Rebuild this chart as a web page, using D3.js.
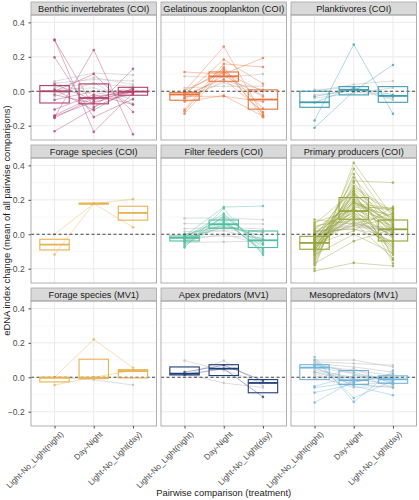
<!DOCTYPE html>
<html>
<head>
<meta charset="utf-8">
<script src="https://cdn.jsdelivr.net/npm/d3@7"></script>
<style>
  body { margin: 0; background: #fff; }
  text { font-family: "Liberation Sans", Arial, sans-serif; }
</style>
</head>
<body>
<div class="box"></div>
<script>
// categories and ticks
const comparisons = ['Light-No_Light(night)', 'Day-Night', 'Light-No_Light(day)'];
const yTicks = [-0.2, 0.0, 0.2, 0.4];
const yMinor = [-0.1, 0.1, 0.3];

const panelNames = ['Benthic invertebrates (COI)', 'Gelatinous zooplankton (COI)', 'Planktivores (COI)',
                    'Forage species (COI)', 'Filter feeders (COI)', 'Primary producers (COI)',
                    'Forage species (MV1)', 'Apex predators (MV1)', 'Mesopredators (MV1)'];
const panelColors = ['#b0416b', '#e8733c', '#3d9db1', '#e9b24e', '#4fbf9f', '#97a33b', '#e9b24e', '#1f3d78', '#6fb4db'];

// each row = one taxon: [night, day-night, day]
const benthicLines = [
  [0.300, -0.236, -0.010], [0.296, -0.090, 0.000], [0.197, -0.150, -0.045], [-0.232, -0.100, 0.130],
  [-0.151, 0.240, -0.250], [-0.145, -0.060, -0.020], [-0.155, -0.040, 0.010], [-0.106, -0.020, -0.077],
  [0.000, 0.100, -0.120], [-0.020, -0.070, 0.015], [-0.050, 0.000, -0.010], [0.010, -0.110, 0.020],
  [-0.140, -0.030, -0.005], [0.040, -0.050, 0.000]];
const benthicGrey = [
  [0.058, 0.106, 0.095], [0.048, 0.068, 0.060], [0.030, 0.040, 0.030], [0.010, 0.020, -0.050],
  [-0.010, 0.000, -0.070], [0.050, -0.020, 0.020], [-0.030, 0.050, -0.080], [0.020, 0.080, 0.040]];

const gelatinousLines = [
  [0.000, 0.260, -0.140], [-0.020, 0.184, 0.044], [0.112, 0.100, 0.193], [-0.106, 0.159, 0.141],
  [-0.116, 0.141, -0.151], [-0.130, 0.120, -0.130], [-0.010, 0.130, -0.100], [-0.030, -0.029, -0.060],
  [-0.060, -0.025, -0.145], [-0.040, 0.090, -0.030], [-0.020, 0.070, -0.120], [0.005, 0.110, 0.000]];
const gelatinousGrey = [
  [0.087, 0.080, 0.100], [0.020, 0.029, 0.030], [-0.040, 0.050, -0.020], [-0.050, 0.060, 0.010]];

const planktivoreLines = [
  [-0.170, 0.272, -0.131], [-0.212, 0.000, 0.153], [-0.030, 0.010, -0.030], [-0.065, 0.020, -0.020]];
const planktivoreGrey = [
  [0.000, 0.040, 0.060], [-0.020, 0.000, -0.040], [0.010, 0.020, -0.050], [-0.040, -0.010, 0.020]];

const forageCoiLines = [[0.000, 0.178, 0.204], [-0.118, 0.178, 0.041]];
const forageCoiGrey = [];

const filterLines = [
  [-0.010, 0.158, 0.164], [-0.077, 0.150, -0.120], [-0.020, 0.120, -0.080], [-0.030, 0.100, -0.050],
  [-0.040, 0.080, -0.100], [-0.060, 0.060, -0.030], [0.000, 0.050, -0.010], [-0.015, 0.090, -0.110],
  [-0.050, 0.070, -0.090], [-0.025, 0.040, 0.010], [-0.070, 0.110, -0.060]];
const filterGrey = [
  [0.093, 0.095, 0.085], [0.062, 0.060, 0.060], [0.033, 0.040, 0.030], [0.015, 0.025, 0.020],
  [-0.020, -0.010, -0.020], [-0.048, -0.044, -0.040], [0.000, 0.020, -0.030], [-0.035, 0.000, -0.060]];

const producerLines = [
  [-0.213, -0.166, -0.184], [-0.200, 0.415, 0.100], [-0.180, 0.350, -0.150], [-0.160, 0.300, 0.020],
  [-0.150, 0.250, -0.170], [-0.140, 0.380, 0.060], [-0.130, 0.200, -0.120], [-0.120, 0.280, 0.130],
  [-0.110, 0.150, -0.080], [-0.100, 0.330, 0.050], [-0.095, 0.230, -0.030], [-0.090, 0.180, 0.150],
  [-0.085, 0.120, -0.100], [-0.080, 0.260, 0.080], [-0.075, 0.100, -0.060], [-0.070, 0.210, 0.010],
  [-0.065, 0.160, 0.110], [-0.060, 0.070, -0.140], [-0.055, 0.240, 0.040], [-0.050, 0.140, -0.020],
  [-0.045, 0.310, 0.300], [-0.040, 0.190, 0.070], [-0.035, 0.090, -0.050], [-0.030, 0.170, 0.140],
  [-0.025, 0.220, 0.000], [-0.020, 0.130, -0.090], [-0.015, 0.050, 0.090], [-0.010, 0.270, 0.120],
  [-0.005, 0.110, -0.010], [0.000, 0.200, 0.060], [0.010, 0.150, 0.030], [0.020, 0.030, -0.040],
  [0.030, 0.180, 0.100], [0.040, 0.120, 0.050], [0.050, 0.080, -0.070], [0.060, 0.250, 0.020],
  [0.070, 0.140, 0.080], [0.085, 0.060, 0.120], [-0.170, -0.040, 0.030], [-0.120, 0.000, -0.110],
  [-0.060, 0.020, 0.160], [-0.100, 0.160, 0.150], [-0.080, 0.190, 0.040], [-0.030, 0.230, 0.090],
  [-0.050, 0.100, 0.010]];
const producerGrey = [
  [0.010, 0.060, 0.020], [0.020, 0.050, 0.010], [0.000, 0.040, 0.030], [0.030, 0.070, 0.000],
  [-0.010, 0.050, 0.040], [0.015, 0.030, -0.010]];

const forageMv1Lines = [[0.000, 0.220, 0.055], [-0.045, 0.000, 0.040]];
const forageMv1Grey = [[0.000, -0.015, -0.045]];

const apexLines = [[0.015, 0.050, -0.114], [0.030, 0.070, -0.020]];
const apexGrey = [[0.097, 0.040, -0.030], [0.010, 0.097, -0.050], [0.020, -0.033, -0.060]];

const mesoLines = [
  [0.118, -0.143, 0.040], [0.100, -0.120, -0.020], [0.060, -0.050, -0.104], [-0.052, 0.010, -0.010],
  [-0.060, -0.030, 0.020], [-0.089, -0.040, -0.060], [-0.147, -0.020, 0.000], [0.070, 0.030, -0.030],
  [0.030, -0.010, -0.040]];
const mesoGrey = [
  [0.100, 0.100, 0.060], [0.090, 0.080, 0.070], [0.080, 0.060, 0.030], [0.070, 0.040, 0.010],
  [0.060, 0.020, -0.020], [0.050, -0.010, -0.010], [0.040, 0.000, 0.000], [0.020, -0.040, -0.030],
  [0.010, -0.060, -0.050], [-0.010, 0.050, -0.040], [0.030, -0.030, 0.020], [0.085, 0.020, -0.060]];

// box stats per comparison: [q1, median, q3]
const boxStats = [
  [[-0.068, 0.000, 0.033], [-0.073, -0.039, 0.043], [-0.023, -0.002, 0.023]],
  [[-0.052, -0.019, -0.008], [0.058, 0.087, 0.112], [-0.104, -0.048, 0.008]],
  [[-0.093, -0.064, 0.000], [-0.021, 0.008, 0.027], [-0.064, -0.027, 0.027]],
  [[-0.091, -0.060, -0.029], [0.176, 0.178, 0.180], [0.082, 0.124, 0.163]],
  [[-0.039, -0.021, -0.010], [0.035, 0.058, 0.083], [-0.077, -0.035, 0.019]],
  [[-0.087, -0.050, -0.012], [0.087, 0.135, 0.213], [-0.039, 0.029, 0.083]],
  [[-0.027, -0.003, 0.000], [-0.008, -0.002, 0.105], [-0.004, 0.036, 0.044]],
  [[0.0135, 0.021, 0.060], [0.010, 0.050, 0.073], [-0.090, -0.033, -0.0135]],
  [[-0.0135, 0.056, 0.073], [-0.042, -0.017, 0.039], [-0.035, -0.012, 0.008]]];

const colouredLines = [benthicLines, gelatinousLines, planktivoreLines, forageCoiLines, filterLines,
                       producerLines, forageMv1Lines, apexLines, mesoLines];
const greyLines = [benthicGrey, gelatinousGrey, planktivoreGrey, forageCoiGrey, filterGrey,
                   producerGrey, forageMv1Grey, apexGrey, mesoGrey];

// Dimensions
const width = 419, height = 500;
const marginLeft = 31, marginTop = 2;
const panelW = 125.5, panelH = 125, stripH = 13;
const colStep = 130, rowStep = 143;

const svg = d3.select('.box')
              .append('svg')
              .attr('width', width)
              .attr('height', height);

const x = d3.scalePoint()
            .domain(comparisons)
            .range([0, panelW])
            .padding(0.6);
const y = d3.scaleLinear()
            .domain([-0.283, 0.443])
            .range([panelH, 0]);
const boxW = x.step() * 0.75;

const line = d3.line()
               .x((d, i) => x(comparisons[i]))
               .y(d => y(d));

panelNames.forEach((name, p) => {
    const col = p % 3, row = Math.floor(p / 3);
    const px = marginLeft + col * colStep;
    const py = marginTop + row * rowStep;
    const colour = panelColors[p];

    // strip
    svg.append('rect')
       .attr('x', px).attr('y', py)
       .attr('width', panelW).attr('height', stripH)
       .attr('fill', '#d9d9d9').attr('stroke', '#a6a6a6').attr('stroke-width', 0.8);
    svg.append('text')
       .attr('x', px + panelW / 2).attr('y', py + stripH / 2 + 3.4)
       .attr('text-anchor', 'middle')
       .attr('font-size', 9.2).attr('fill', '#1a1a1a')
       .text(name);

    const g = svg.append('g')
                 .attr('transform', `translate(${px}, ${py + stripH})`);

    // grid
    g.selectAll('.minor').data(yMinor).enter().append('line')
     .attr('x1', 0).attr('x2', panelW)
     .attr('y1', d => y(d)).attr('y2', d => y(d))
     .attr('stroke', '#f2f2f2').attr('stroke-width', 0.5);
    g.selectAll('.major').data(yTicks).enter().append('line')
     .attr('x1', 0).attr('x2', panelW)
     .attr('y1', d => y(d)).attr('y2', d => y(d))
     .attr('stroke', '#e6e6e6').attr('stroke-width', 0.8);
    g.selectAll('.vgrid').data(comparisons).enter().append('line')
     .attr('x1', d => x(d)).attr('x2', d => x(d))
     .attr('y1', 0).attr('y2', panelH)
     .attr('stroke', '#e6e6e6').attr('stroke-width', 0.8);

    // grey (non-significant) lines
    greyLines[p].forEach(vals => {
        g.append('path').attr('d', line(vals))
         .attr('fill', 'none').attr('stroke', '#c4c4c4').attr('stroke-width', 0.8).attr('opacity', 0.7);
        g.selectAll(null).data(vals).enter().append('circle')
         .attr('cx', (d, i) => x(comparisons[i])).attr('cy', d => y(d))
         .attr('r', 1.2).attr('fill', '#bdbdbd').attr('opacity', 0.8);
    });

    // coloured lines
    colouredLines[p].forEach(vals => {
        g.append('path').attr('d', line(vals))
         .attr('fill', 'none').attr('stroke', colour).attr('stroke-width', 0.8).attr('opacity', 0.5);
        g.selectAll(null).data(vals).enter().append('circle')
         .attr('cx', (d, i) => x(comparisons[i])).attr('cy', d => y(d))
         .attr('r', 1.3).attr('fill', colour).attr('opacity', 0.75);
    });

    // zero line
    g.append('line')
     .attr('x1', 0).attr('x2', panelW)
     .attr('y1', y(0)).attr('y2', y(0))
     .attr('stroke', '#333').attr('stroke-width', 0.9).attr('stroke-dasharray', '3,2.5');

    // boxes
    boxStats[p].forEach((b, i) => {
        const cx = x(comparisons[i]);
        g.append('rect')
         .attr('x', cx - boxW / 2).attr('y', y(b[2]))
         .attr('width', boxW).attr('height', Math.max(0.5, y(b[0]) - y(b[2])))
         .attr('fill', 'none').attr('stroke', colour).attr('stroke-width', 1.1);
        g.append('line')
         .attr('x1', cx - boxW / 2).attr('x2', cx + boxW / 2)
         .attr('y1', y(b[1])).attr('y2', y(b[1]))
         .attr('stroke', colour).attr('stroke-width', 1.8);
    });

    // panel border
    g.append('rect')
     .attr('width', panelW).attr('height', panelH)
     .attr('fill', 'none').attr('stroke', '#a6a6a6').attr('stroke-width', 0.9);

    // y axis on first column
    if (col === 0) {
        const axeY = d3.axisLeft(y).tickValues(yTicks).tickFormat(d3.format('.1f')).tickSize(2.5);
        const gy = g.append('g').call(axeY);
        gy.select('.domain').remove();
        gy.selectAll('line').attr('stroke', '#4d4d4d');
        gy.selectAll('text').attr('font-size', 8.5).attr('fill', '#4d4d4d').attr('dx', '-0.1em');
    }

    // x axis on bottom row
    if (row === 2) {
        const axeX = d3.axisBottom(x).tickSize(2.5);
        const gx = g.append('g').attr('transform', `translate(0, ${panelH})`).call(axeX);
        gx.select('.domain').remove();
        gx.selectAll('line').attr('stroke', '#4d4d4d');
        gx.selectAll('text')
          .attr('font-size', 8.2).attr('fill', '#4d4d4d')
          .attr('text-anchor', 'end')
          .attr('transform', 'translate(2,2) rotate(-45)')
          .attr('dy', '0.5em');
    }
});

// axis titles
svg.append('text')
   .attr('transform', `translate(10, ${marginTop + stripH + (2 * rowStep + panelH) / 2}) rotate(-90)`)
   .attr('text-anchor', 'middle')
   .attr('font-size', 9.4).attr('fill', '#1a1a1a')
   .text('eDNA index change (mean of all pairwise comparisons)');
svg.append('text')
   .attr('x', marginLeft + (2 * colStep + panelW) / 2).attr('y', 496)
   .attr('text-anchor', 'middle')
   .attr('font-size', 9.4).attr('fill', '#1a1a1a')
   .text('Pairwise comparison (treatment)');
</script>
</body>
</html>
